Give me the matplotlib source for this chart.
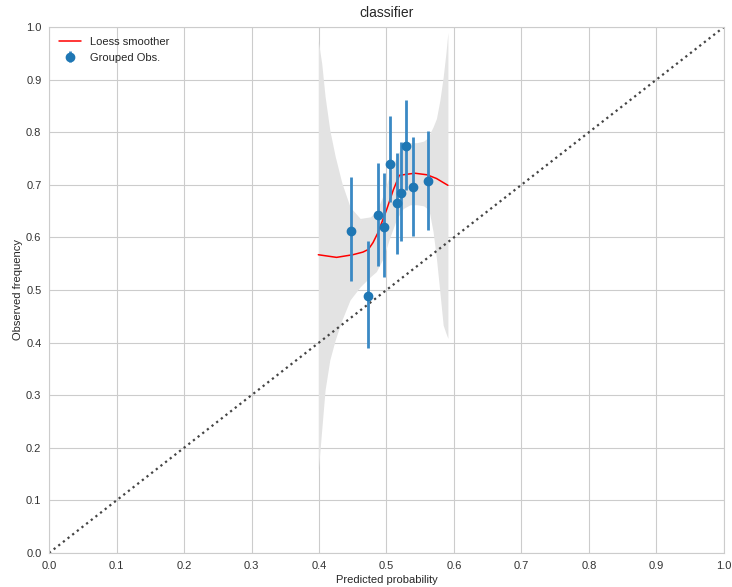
import numpy as np
import matplotlib.pyplot as plt
import seaborn as sns

sns.set_style('whitegrid')
plt.rcParams['font.family'] = ['Liberation Sans', 'DejaVu Sans']

# grouped observations
obs_x = [0.447, 0.473, 0.488, 0.496, 0.505, 0.515, 0.522, 0.529, 0.540, 0.562]
obs_y = [0.612, 0.489, 0.643, 0.620, 0.740, 0.665, 0.684, 0.773, 0.696, 0.707]
obs_lo = [0.517, 0.390, 0.545, 0.524, 0.668, 0.568, 0.594, 0.690, 0.603, 0.614]
obs_hi = [0.714, 0.593, 0.741, 0.722, 0.831, 0.761, 0.781, 0.861, 0.791, 0.803]

# loess smoother
loess_x = [0.399, 0.426, 0.450, 0.465, 0.473, 0.480, 0.487, 0.500, 0.510, 0.519, 0.530,
           0.542, 0.560, 0.574, 0.591]
loess_y = [0.567, 0.562, 0.567, 0.572, 0.577, 0.590, 0.608, 0.652, 0.690, 0.718, 0.720,
           0.722, 0.719, 0.712, 0.699]

# confidence band
band_x = [0.399, 0.404, 0.409, 0.416, 0.424, 0.434, 0.446, 0.461, 0.476, 0.485, 0.495, 0.505,
          0.515, 0.525, 0.535, 0.545, 0.555, 0.560, 0.564, 0.569, 0.574, 0.579, 0.584, 0.588, 0.591]
band_hi = [0.973, 0.931, 0.868, 0.804, 0.754, 0.703, 0.658, 0.636, 0.639, 0.649, 0.680, 0.720,
           0.755, 0.775, 0.780, 0.780, 0.783, 0.788, 0.797, 0.810, 0.826, 0.860, 0.905, 0.950, 0.990]
band_lo = [0.158, 0.234, 0.310, 0.367, 0.405, 0.443, 0.481, 0.506, 0.525, 0.535, 0.560, 0.600,
           0.635, 0.655, 0.662, 0.662, 0.660, 0.655, 0.645, 0.611, 0.560, 0.497, 0.433, 0.418, 0.408]

fig = plt.figure(figsize=(7.32, 5.87), dpi=100)
ax = fig.add_axes([0.067, 0.058, 0.922, 0.896])

ax.fill_between(band_x, band_lo, band_hi, color='#e3e3e3', linewidth=0)
ax.plot([0, 1], [0, 1], color='#444444', linestyle=':', linewidth=1.6)
ax.plot(loess_x, loess_y, color='red', linewidth=1.1, label='Loess smoother')

obs_y = np.array(obs_y)
yerr = [obs_y - np.array(obs_lo), np.array(obs_hi) - obs_y]
ax.errorbar(obs_x, obs_y, yerr=yerr, fmt='o', color='#1f77b4', ecolor='#3a89c4',
            elinewidth=2, markersize=6, label='Grouped Obs.')

ax.set_xlim(0, 1)
ax.set_ylim(0, 1)
ticks = np.linspace(0, 1, 11)
ax.set_xticks(ticks)
ax.set_yticks(ticks)
ax.tick_params(labelsize=8, colors='#333333', pad=2)
ax.set_xlabel('Predicted probability', fontsize=8, labelpad=3)
ax.set_ylabel('Observed frequency', fontsize=8, labelpad=2)
ax.set_title('classifier', fontsize=10, pad=7)
ax.legend(loc='upper left', fontsize=8, frameon=False)

fig.savefig('out.png', dpi=100)
